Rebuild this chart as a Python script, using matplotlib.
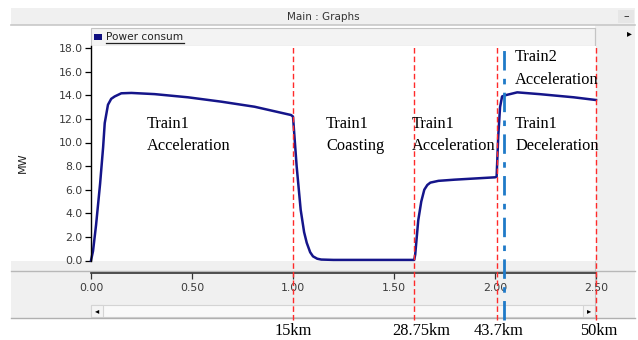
import matplotlib
matplotlib.use("Agg")
import matplotlib.pyplot as plt
from matplotlib.patches import Rectangle

# ---------------- data ----------------
dist = [0.000, 0.010, 0.025, 0.045, 0.060, 0.068, 0.084, 0.100, 0.117, 0.150,
        0.200, 0.315, 0.480, 0.645, 0.810, 0.990, 1.000, 1.018, 1.038, 1.055,
        1.068, 1.085, 1.099, 1.120, 1.140, 1.200, 1.400, 1.600, 1.605, 1.620,
        1.635, 1.650, 1.665, 1.680, 1.720, 1.800, 1.900, 2.000, 2.008, 2.016,
        2.025, 2.035, 2.050, 2.110, 2.220, 2.390, 2.500]
power = [0.0, 0.8, 3.0, 6.5, 9.6, 11.65, 13.2, 13.7, 13.9, 14.17,
         14.2, 14.1, 13.83, 13.46, 13.03, 12.33, 12.2, 8.0, 4.3, 2.4,
         1.5, 0.7, 0.35, 0.15, 0.08, 0.05, 0.05, 0.05, 0.5, 3.4,
         5.0, 6.0, 6.4, 6.6, 6.75, 6.85, 6.95, 7.05, 7.1, 10.5,
         13.0, 13.9, 14.0, 14.25, 14.1, 13.83, 13.6]

x_ticks = [0.0, 0.5, 1.0, 1.5, 2.0, 2.5]
y_ticks = [0, 2, 4, 6, 8, 10, 12, 14, 16, 18]
boundaries = [1.0, 1.6, 2.01, 2.5]          # red dashed phase boundaries
train2_start = 2.045                        # blue dash-dot line
km_labels = ["15km", "28.75km", "43.7km", "50km"]
phase_labels = [("Train1", "Acceleration"), ("Train1", "Coasting"),
                ("Train1", "Acceleration"), ("Train1", "Deceleration"),
                ("Train2", "Acceleration")]
series_name = "Power consum"
y_label = "MW"
window_title = "Main : Graphs"

# ---------------- layout helpers ----------------
W, H = 638, 340
fig = plt.figure(figsize=(W / 100, H / 100), dpi=100)
fig.patch.set_facecolor("white")

def ax_px(l, t, r, b, **kw):
    return fig.add_axes([l / W, 1 - b / H, (r - l) / W, (b - t) / H], **kw)

# background / window chrome in pixel coordinates
bg = ax_px(0, 0, W, H)
bg.set_xlim(0, W)
bg.set_ylim(H, 0)
bg.axis("off")
bg.set_zorder(0)

grey = "#f0f0f0"
edge = "#c4c4c4"
# title bar
bg.add_patch(Rectangle((11, 8), 624, 17, fc=grey, ec="none"))
bg.plot([11, 635], [25, 25], color="#c8c8c8", lw=1.2)
bg.text(323, 16.5, window_title, ha="center", va="center", fontsize=7.5,
        family="DejaVu Sans", color="#333333")
bg.add_patch(Rectangle((618, 10), 16, 13, fc="#e6e6e6", ec="none"))
bg.text(626, 16.5, "–", ha="center", va="center", fontsize=8, color="#222222")
# right column
bg.add_patch(Rectangle((595, 25), 40, 293, fc=grey, ec="none"))
bg.plot([595, 595], [28, 318], color=edge, lw=0.8)
bg.text(629, 33, "▸", ha="center", va="center", fontsize=7, color="black")
# legend strip
bg.add_patch(Rectangle((91, 28), 504, 18, fc="#f3f3f3", ec=edge, lw=0.8))
bg.add_patch(Rectangle((94, 34), 8, 5.5, fc="#101080", ec="none"))
bg.text(106, 37, series_name, ha="left", va="center", fontsize=7.6,
        family="DejaVu Sans", color="#222222")
bg.plot([106, 184], [42.5, 42.5], color="#222222", lw=0.9)
# bottom grey area (below the plot)
bg.add_patch(Rectangle((11, 260.5), 584, 58, fc=grey, ec="none"))
bg.plot([11, 635], [270.7, 270.7], color="#b8b8b8", lw=1.0)
bg.plot([11, 635], [318, 318], color="#b0b0b0", lw=1.0)
# scrollbar
bg.add_patch(Rectangle((91, 305), 504, 12, fc="#f9f9f9", ec="#d4d4d4", lw=0.8))
bg.add_patch(Rectangle((91, 305), 12, 12, fc="#f4f4f4", ec="#d4d4d4", lw=0.8))
bg.add_patch(Rectangle((583, 305), 12, 12, fc="#f4f4f4", ec="#d4d4d4", lw=0.8))
bg.text(97, 311, "◂", ha="center", va="center", fontsize=6, color="black")
bg.text(589, 311, "▸", ha="center", va="center", fontsize=6, color="black")
# y label
bg.text(23, 163, y_label, ha="center", va="center", rotation=90,
        fontsize=8, family="DejaVu Sans", color="#222222")

# ---------------- main plot ----------------
px_per_mw = 11.8
y0_px = 260.5
ytop = (y0_px - 46) / px_per_mw
ax = ax_px(91, 46, 596, y0_px)
ax.set_zorder(2)
ax.set_facecolor("white")
ax.set_xlim(0, 2.5)
ax.set_ylim(0, ytop)
for s in ["top", "right", "bottom"]:
    ax.spines[s].set_visible(False)
ax.spines["left"].set_color("black")
ax.spines["left"].set_linewidth(1.0)
ax.set_xticks([])
ax.set_yticks(y_ticks)
ax.set_yticklabels([f"{v:.1f}" for v in y_ticks])
ax.tick_params(axis="y", direction="out", length=4, width=0.9, pad=2,
               labelsize=7.8, labelcolor="#3a3a3a", colors="black")
for lab in ax.get_yticklabels():
    lab.set_color("#3a3a3a")
ax.plot(dist, power, color="#15158a", lw=1.8, clip_on=False,
        solid_joinstyle="round")

# ---------------- x axis strip ----------------
xa = ax_px(91, 272, 596, 273)
xa.set_zorder(3)
xa.patch.set_visible(False)
xa.set_xlim(0, 2.5)
xa.set_ylim(0, 1)
for s in ["top", "right", "left"]:
    xa.spines[s].set_visible(False)
xa.spines["bottom"].set_color("#333333")
xa.spines["bottom"].set_linewidth(1.2)
xa.set_yticks([])
xa.set_xticks(x_ticks)
xa.set_xticklabels([f"{v:.2f}" for v in x_ticks])
xa.tick_params(axis="x", direction="out", length=4, width=0.9, pad=3,
               labelsize=7.8, labelcolor="#3a3a3a", colors="#333333")
for lab in xa.get_xticklabels():
    lab.set_color("#3a3a3a")

# ---------------- overlay: phase lines ----------------
ov = ax_px(91, 45, 596, 320)
ov.set_zorder(4)
ov.patch.set_visible(False)
ov.axis("off")
ov.set_xlim(0, 2.5)
ov.set_ylim(0, 1)
for b in boundaries:
    ov.axvline(b, color="#ff2a2a", lw=1.0, dashes=(4, 2.2), clip_on=False)
ov.axvline(train2_start, color="#1f7ac8", lw=2.0, dashes=(7, 3, 2, 3),
           clip_on=False)

# ---------------- annotations (pixel coords) ----------------
serif = "Liberation Serif"
fs = 11.8
phase_xy = [(147, 124), (326, 124), (412, 124), (515, 124), (515, 57)]
line_gap = 22.5
for (l1, l2), (px, py) in zip(phase_labels, phase_xy):
    bg.text(px, py, l1, ha="left", va="center", fontsize=fs, family=serif,
            color="black", zorder=10)
    bg.text(px, py + line_gap, l2, ha="left", va="center", fontsize=fs,
            family=serif, color="black", zorder=10)

km_x = [293, 421, 499, 599]
for lab, kx in zip(km_labels, km_x):
    bg.text(kx, 331, lab, ha="center", va="center", fontsize=fs,
            family=serif, color="black")

# annotation text must be above the main axes: use a top transparent axes
top = ax_px(0, 0, W, H)
top.set_xlim(0, W)
top.set_ylim(H, 0)
top.axis("off")
top.set_zorder(5)
for t in list(bg.texts):
    if t.get_fontfamily()[0] == serif and t.get_position()[1] < 200:
        t.remove()
        top.text(*t.get_position(), t.get_text(), ha="left", va="center",
                 fontsize=fs, family=serif, color="black")

fig.savefig("out.png", dpi=100)
